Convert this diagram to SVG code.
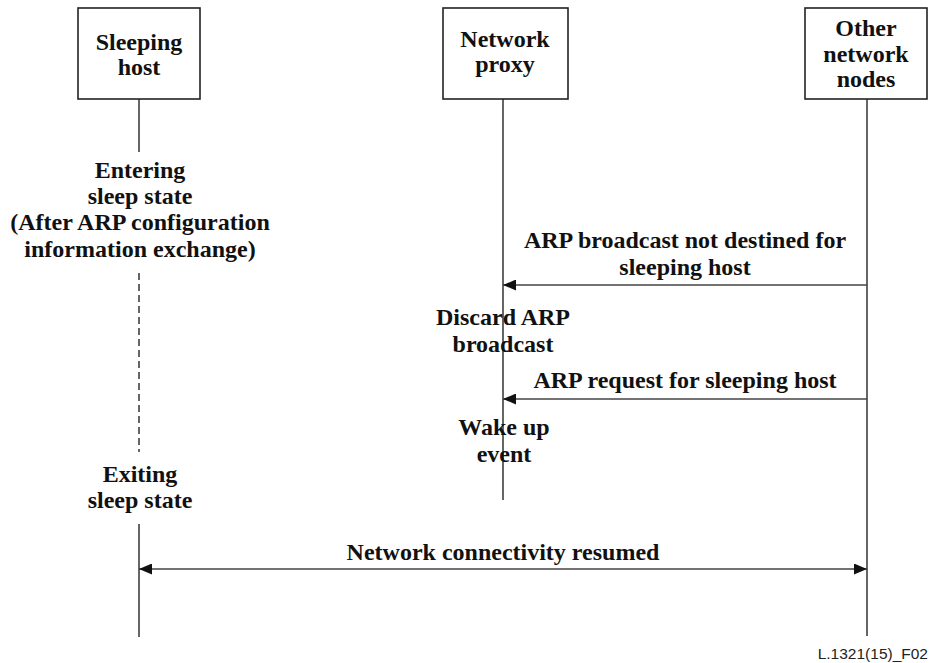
<svg xmlns="http://www.w3.org/2000/svg" width="934" height="663" viewBox="0 0 934 663">
  <style>
    .box { fill: #ffffff; stroke: #222222; stroke-width: 1.6; }
    .life { stroke: #333333; stroke-width: 1.5; fill: none; }
    .dash { stroke: #333333; stroke-width: 1.5; fill: none; stroke-dasharray: 7 4; }
    .msg { stroke: #444444; stroke-width: 1.5; fill: none; }
    .t { font-family: "Liberation Serif", "Times New Roman", serif; font-weight: bold; font-size: 24px; fill: #111111; text-anchor: middle; }
    .ref { font-family: "Liberation Sans", Arial, sans-serif; font-size: 15.5px; fill: #222222; text-anchor: end; }
  </style>
  <defs>
    <marker id="arrow" viewBox="0 0 13 11" refX="13" refY="5.5" markerWidth="13" markerHeight="11" markerUnits="userSpaceOnUse" orient="auto-start-reverse">
      <path d="M0,0 L13,5.5 L0,11 Z" fill="#111111"/>
    </marker>
  </defs>
  <rect width="934" height="663" fill="#ffffff"/>

  <!-- lifelines -->
  <g id="lifelines">
    <line class="life" x1="139" y1="99" x2="139" y2="152"/>
    <line class="dash" x1="139" y1="273" x2="139" y2="452"/>
    <line class="life" x1="139" y1="524" x2="139" y2="637"/>
    <line class="life" x1="503" y1="99" x2="503" y2="500"/>
    <line class="life" x1="867" y1="99" x2="867" y2="636"/>
  </g>

  <g id="sleeping-host">
    <rect class="box" x="78" y="8" width="122" height="91"/>
    <text class="t" x="139" y="50">Sleeping</text>
    <text class="t" x="139" y="75">host</text>
  </g>

  <g id="network-proxy">
    <rect class="box" x="443" y="8" width="125" height="91"/>
    <text class="t" x="505" y="47">Network</text>
    <text class="t" x="505" y="72">proxy</text>
  </g>

  <g id="other-nodes">
    <rect class="box" x="805" y="8" width="122" height="91"/>
    <text class="t" x="866" y="36">Other</text>
    <text class="t" x="866" y="62">network</text>
    <text class="t" x="866" y="87">nodes</text>
  </g>

  <g id="host-states">
    <text class="t" x="140" y="178">Entering</text>
    <text class="t" x="140" y="204">sleep state</text>
    <text class="t" x="140" y="230">(After ARP configuration</text>
    <text class="t" x="140" y="257">information exchange)</text>
    <text class="t" x="140" y="482">Exiting</text>
    <text class="t" x="140" y="508">sleep state</text>
  </g>

  <g id="proxy-states">
    <text class="t" x="503" y="325">Discard ARP</text>
    <text class="t" x="503" y="352">broadcast</text>
    <text class="t" x="504" y="435">Wake up</text>
    <text class="t" x="504" y="462">event</text>
  </g>

  <!-- messages -->
  <g id="connectors">
    <line class="msg" x1="867" y1="285" x2="503" y2="285" marker-end="url(#arrow)"/>
    <line class="msg" x1="867" y1="399" x2="503" y2="399" marker-end="url(#arrow)"/>
    <line class="msg" x1="139" y1="569" x2="867" y2="569" marker-start="url(#arrow)" marker-end="url(#arrow)"/>
  </g>

  <g id="message-labels">
    <text class="t" x="685" y="248">ARP broadcast not destined for</text>
    <text class="t" x="685" y="275">sleeping host</text>
    <text class="t" x="685" y="388">ARP request for sleeping host</text>
    <text class="t" x="503" y="560">Network connectivity resumed</text>
  </g>

  <text class="ref" x="928" y="659">L.1321(15)_F02</text>
</svg>
